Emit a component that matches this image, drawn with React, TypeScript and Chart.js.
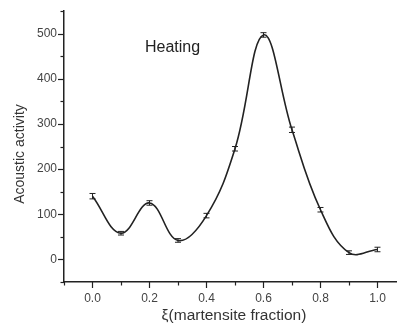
import React, { useEffect, useRef } from "react";
import { Chart, registerables } from "chart.js";

Chart.register(...registerables);

const fractions = [0.0, 0.1, 0.2, 0.3, 0.4, 0.5, 0.6, 0.7, 0.8, 0.9, 1.0];
const activity = [140, 58, 125, 42, 97, 245, 497, 287, 110, 15, 22];
const errors = [6, 4, 5, 4, 5, 5, 5, 6, 5, 4, 5];
const xMajorTicks = [0.0, 0.2, 0.4, 0.6, 0.8, 1.0];
const xMinorTicks = [-0.1, 0.1, 0.3, 0.5, 0.7, 0.9];
const yMajorTicks = [0, 100, 200, 300, 400, 500];
const yMinorTicks = [-50, 50, 150, 250, 350, 450, 550];
const annotationText = "Heating";
const xTitle = "ξ(martensite fraction)";
const yTitle = "Acoustic activity";

const INK = "#222";
const FONT = "'Liberation Sans', Arial, sans-serif";

const decorPlugin = {
  id: "decor",
  afterDatasetsDraw(chart: any) {
    const ctx = chart.ctx;
    const xs = chart.scales.x;
    const ys = chart.scales.y;
    const area = chart.chartArea;
    ctx.save();
    // error bars
    ctx.strokeStyle = INK;
    ctx.lineWidth = 1;
    fractions.forEach((f, i) => {
      const px = xs.getPixelForValue(f);
      const top = ys.getPixelForValue(activity[i] + errors[i]);
      const bot = ys.getPixelForValue(activity[i] - errors[i]);
      ctx.beginPath();
      ctx.moveTo(px, top);
      ctx.lineTo(px, bot);
      ctx.moveTo(px - 3, top);
      ctx.lineTo(px + 3, top);
      ctx.moveTo(px - 3, bot);
      ctx.lineTo(px + 3, bot);
      ctx.stroke();
    });
    // tick marks
    ctx.lineWidth = 1.2;
    const yAxisX = area.left;
    const xAxisY = area.bottom;
    yMajorTicks.forEach((v) => {
      const py = Math.round(ys.getPixelForValue(v)) + 0.5;
      ctx.beginPath();
      ctx.moveTo(yAxisX - 6, py);
      ctx.lineTo(yAxisX, py);
      ctx.stroke();
    });
    yMinorTicks.forEach((v) => {
      const py = Math.round(ys.getPixelForValue(v)) + 0.5;
      ctx.beginPath();
      ctx.moveTo(yAxisX - 3.5, py);
      ctx.lineTo(yAxisX, py);
      ctx.stroke();
    });
    xMajorTicks.forEach((v) => {
      const px = Math.round(xs.getPixelForValue(v)) + 0.5;
      ctx.beginPath();
      ctx.moveTo(px, xAxisY);
      ctx.lineTo(px, xAxisY + 6);
      ctx.stroke();
    });
    xMinorTicks.forEach((v) => {
      const px = Math.round(xs.getPixelForValue(v)) + 0.5;
      ctx.beginPath();
      ctx.moveTo(px, xAxisY);
      ctx.lineTo(px, xAxisY + 3.5);
      ctx.stroke();
    });
    // annotation
    ctx.fillStyle = "#222";
    ctx.font = `16px ${FONT}`;
    ctx.textAlign = "left";
    ctx.textBaseline = "middle";
    ctx.fillText(annotationText, area.left + 81, area.top + 37);
    // axis titles
    ctx.fillStyle = "#333";
    ctx.font = `15.5px ${FONT}`;
    ctx.textAlign = "center";
    ctx.fillText(xTitle, 234, 316);
    ctx.save();
    ctx.translate(20, 154);
    ctx.rotate(-Math.PI / 2);
    ctx.font = `14px ${FONT}`;
    ctx.fillText(yTitle, 0, 0);
    ctx.restore();
    ctx.restore();
  },
};

export default function App() {
  const ref = useRef<HTMLCanvasElement | null>(null);
  useEffect(() => {
    if (!ref.current) return;
    const chart = new Chart(ref.current, {
      type: "line",
      data: {
        labels: fractions,
        datasets: [
          {
            data: fractions.map((f, i) => ({ x: f, y: activity[i] })),
            borderColor: INK,
            borderWidth: 1.6,
            pointRadius: 0,
            tension: 0.4,
            fill: false,
          },
        ],
      },
      options: {
        animation: false,
        responsive: true,
        maintainAspectRatio: false,
        layout: { padding: { top: 11, right: 2, left: 0, bottom: 0 } },
        plugins: {
          legend: { display: false },
          tooltip: { enabled: false },
        },
        scales: {
          x: {
            type: "linear",
            min: -0.1,
            max: 1.065,
            afterFit: (s: any) => {
              s.height = 44;
            },
            afterBuildTicks: (s: any) => {
              s.ticks = xMajorTicks.map((v) => ({ value: v }));
            },
            grid: {
              display: true,
              drawOnChartArea: false,
              drawTicks: true,
              tickLength: 6,
              color: "rgba(0,0,0,0)",
              tickColor: "rgba(0,0,0,0)",
            },
            border: { display: true, color: INK, width: 1.5 },
            ticks: {
              padding: 3,
              color: "#444",
              font: { family: FONT, size: 12 },
              callback: (v: any) => Number(v).toFixed(1),
              maxRotation: 0,
            },
            title: { display: false },
          },
          y: {
            type: "linear",
            min: -50,
            max: 550,
            afterFit: (s: any) => {
              s.width = 64;
            },
            afterBuildTicks: (s: any) => {
              s.ticks = yMajorTicks.map((v) => ({ value: v }));
            },
            grid: {
              display: true,
              drawOnChartArea: false,
              drawTicks: true,
              tickLength: 6,
              color: "rgba(0,0,0,0)",
              tickColor: "rgba(0,0,0,0)",
            },
            border: { display: true, color: INK, width: 1.5 },
            ticks: {
              padding: 1,
              color: "#444",
              font: { family: FONT, size: 12 },
            },
            title: { display: false },
          },
        },
      },
      plugins: [decorPlugin],
    });
    return () => chart.destroy();
  }, []);
  return (
    <div style={{ position: "fixed", left: 0, top: 0, width: 398, height: 326, background: "#fff" }}>
      <canvas ref={ref} />
    </div>
  );
}
